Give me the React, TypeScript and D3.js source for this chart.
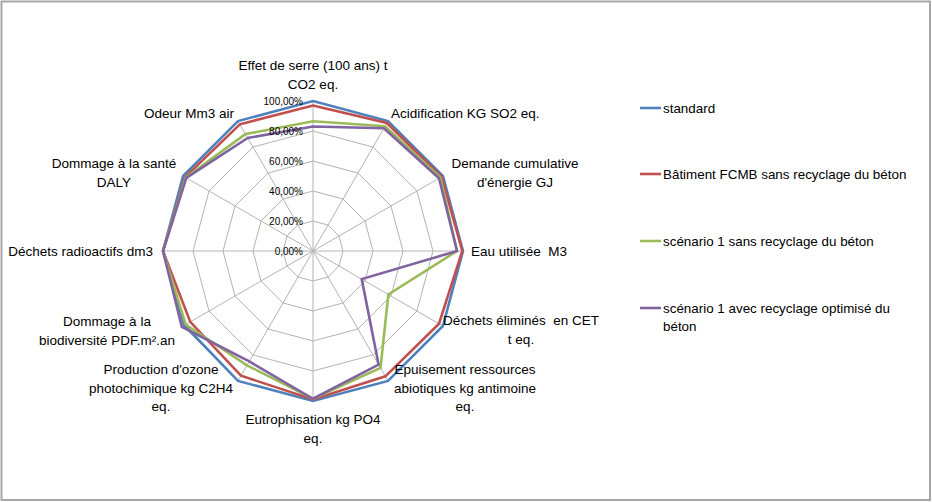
import React, { useRef, useEffect } from 'react';
import * as d3 from 'd3';

// axes du radar, dans le sens horaire depuis le haut
const categories = [
  "Effet de serre (100 ans) t CO2 eq.",
  "Acidification KG SO2 eq.",
  "Demande cumulative d'énergie GJ",
  "Eau utilisée  M3",
  "Déchets éliminés  en CET t eq.",
  "Epuisement ressources abiotiques kg antimoine eq.",
  "Eutrophisation kg PO4 eq.",
  "Production d'ozone photochimique kg C2H4 eq.",
  "Dommage à la biodiversité PDF.m².an",
  "Déchets radioactifs dm3",
  "Dommage à la santé DALY",
  "Odeur Mm3 air",
];

// libellés coupés comme dans le graphique
const categoryLines = [
  ["Effet de serre (100 ans) t", "CO2 eq."],
  ["Acidification KG SO2 eq."],
  ["Demande cumulative", "d'énergie GJ"],
  ["Eau utilisée  M3"],
  ["Déchets éliminés  en CET", "t eq."],
  ["Epuisement ressources", "abiotiques kg antimoine", "eq."],
  ["Eutrophisation kg PO4", "eq."],
  ["Production d'ozone", "photochimique kg C2H4", "eq."],
  ["Dommage à la", "biodiversité PDF.m².an"],
  ["Déchets radioactifs dm3"],
  ["Dommage à la santé", "DALY"],
  ["Odeur Mm3 air"],
];

const seriesNames = [
  "standard",
  "Bâtiment FCMB sans recyclage du béton",
  "scénario 1 sans recyclage du béton",
  "scénario 1 avec recyclage optimisé du béton",
];

// valeurs en %
const standard = [100, 100, 100, 100, 100, 100, 100, 100, 99, 100, 100, 100];
const batimentFCMB = [97, 98.5, 99, 99.5, 97, 96.5, 99, 96, 94.5, 100, 98.5, 97.5];
const scenario1Sans = [86.5, 96, 98, 96, 58, 90, 98.5, 88, 98, 100, 98, 90];
const scenario1Avec = [83, 94.5, 97, 96, 37.5, 87.5, 98.5, 85, 101, 100, 97.5, 87];

const ticks = [0, 20, 40, 60, 80, 100];

const colors = ["#4F81BD", "#C0504D", "#9BBB59", "#8064A2"];

const W = 932;
const H = 502;
const FONT = "'Liberation Sans', Arial, sans-serif";

// position des libellés (x, y de la 1re ligne, ancrage)
const labelLayout: Array<[number, number, string]> = [
  [313, 65, "middle"],
  [391, 113, "start"],
  [515, 163, "middle"],
  [471, 251, "start"],
  [521, 320, "middle"],
  [465, 369, "middle"],
  [313, 419, "middle"],
  [161, 369, "middle"],
  [107, 321, "middle"],
  [153, 251, "end"],
  [114, 163, "middle"],
  [234, 113, "end"],
];

// garder les doubles espaces visibles
const keepSpaces = (s: string) => s.replace(/  /g, " \u00a0");

function radar(svgEl: SVGSVGElement) {
  const svg = d3.select(svgEl);
  svg.selectAll("*").remove();

  const cx = 313;
  const cy = 251;
  const radius = 150;

  // cadre
  svg.append("rect")
    .attr("x", 0).attr("y", 0).attr("width", W).attr("height", H)
    .attr("fill", "#fff");
  svg.append("rect")
    .attr("x", 1.5).attr("y", 1.5).attr("width", 928.5).attr("height", 498.5)
    .attr("fill", "none")
    .attr("stroke", "#a6a6a6")
    .attr("stroke-width", 2);

  const angle = d3.scaleBand<string>()
    .domain(categories)
    .range([0, 2 * Math.PI])
    .padding(0);
  const r = d3.scaleLinear().domain([0, 100]).range([0, radius]);

  const g = svg.append("g").attr("transform", `translate(${cx},${cy})`);

  // grille
  const ring = d3.lineRadial<string>()
    .angle(d => angle(d)!)
    .curve(d3.curveLinearClosed);
  g.append("g")
    .selectAll("path")
    .data(ticks.filter(t => t > 0))
    .join("path")
    .attr("d", t => ring.radius(r(t))(categories))
    .attr("fill", "none")
    .attr("stroke", "#b3b3b3")
    .attr("stroke-width", 1);

  g.append("g")
    .selectAll("line")
    .data(categories)
    .join("line")
    .attr("x1", 0).attr("y1", 0)
    .attr("x2", d => r(100) * Math.sin(angle(d)!))
    .attr("y2", d => -r(100) * Math.cos(angle(d)!))
    .attr("stroke", "#b3b3b3")
    .attr("stroke-width", 1);

  // séries
  const allSeries = [standard, batimentFCMB, scenario1Sans, scenario1Avec];
  const line = d3.lineRadial<number>()
    .angle((d, i) => angle(categories[i])!)
    .radius(d => r(d))
    .curve(d3.curveLinearClosed);
  g.append("g")
    .selectAll("path")
    .data(allSeries)
    .join("path")
    .attr("d", d => line(d))
    .attr("fill", "none")
    .attr("stroke", (d, i) => colors[i])
    .attr("stroke-width", 2.6)
    .attr("stroke-linejoin", "miter");

  // graduations
  g.append("g")
    .selectAll("text")
    .data(ticks)
    .join("text")
    .attr("x", -10)
    .attr("y", t => -r(t))
    .attr("dy", "0.35em")
    .attr("text-anchor", "end")
    .attr("font-family", FONT)
    .attr("font-size", 10)
    .attr("fill", "#000")
    .text(t => d3.format(".2f")(t).replace(".", ",") + "%");

  // libellés des axes
  const labels = svg.append("g")
    .attr("font-family", FONT)
    .attr("font-size", 13.5)
    .attr("fill", "#000");
  categoryLines.forEach((lines, i) => {
    const [lx, ly, anchor] = labelLayout[i];
    const t = labels.append("text")
      .attr("text-anchor", anchor)
      .attr("dominant-baseline", "central");
    lines.forEach((s, j) => {
      t.append("tspan").attr("x", lx).attr("y", ly + j * 18.7).text(keepSpaces(s));
    });
  });

  // légende
  const legendY = [108, 174, 241, 308];
  const legend = svg.append("g")
    .attr("font-family", FONT)
    .attr("font-size", 13.4)
    .attr("fill", "#000");
  seriesNames.forEach((name, i) => {
    legend.append("line")
      .attr("x1", 640).attr("x2", 661)
      .attr("y1", legendY[i]).attr("y2", legendY[i])
      .attr("stroke", colors[i])
      .attr("stroke-width", 2.6);
    const t = legend.append("text").attr("dominant-baseline", "central");
    const parts = i === 3 ? ["scénario 1 avec recyclage optimisé du", "béton"] : [name];
    parts.forEach((s, j) => {
      t.append("tspan").attr("x", 663).attr("y", legendY[i] + j * 18).text(s);
    });
  });
}

export default function App() {
  const ref = useRef<SVGSVGElement>(null);
  useEffect(() => {
    if (ref.current) radar(ref.current);
  }, []);
  return (
    <svg
      ref={ref}
      width={W}
      height={H}
      style={{ position: 'absolute', left: 0, top: 0 }}
    />
  );
}
